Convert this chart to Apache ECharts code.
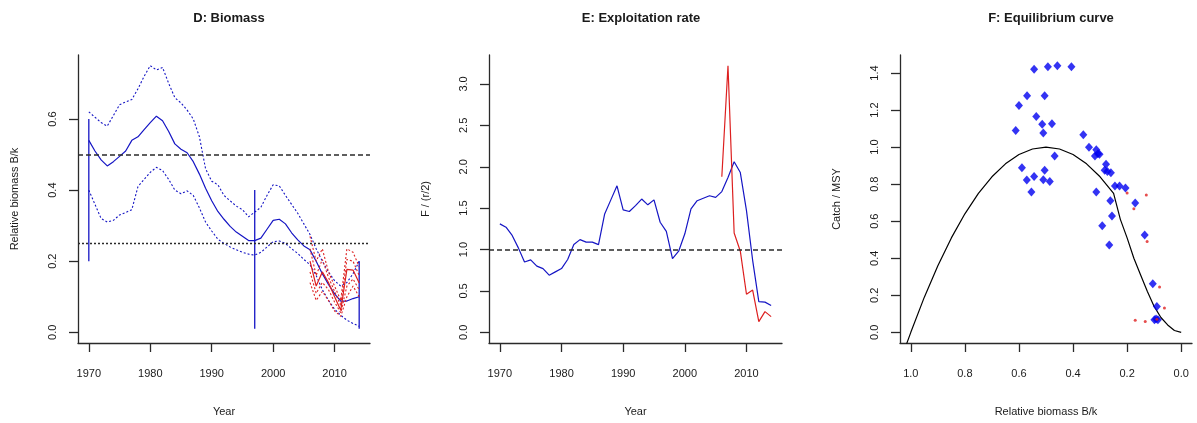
<!DOCTYPE html>
<html>
<head>
<meta charset="utf-8">
<script src="https://cdn.jsdelivr.net/npm/echarts@6/dist/echarts.min.js"></script>
<style>
  html, body { margin: 0; padding: 0; background: #fff; }
  #chart { width: 1197px; height: 423px; }
</style>
</head>
<body>
<div id="chart"></div>
<script>
// ---- Panel D: relative biomass B/k ----
const years = [1970, 1971, 1972, 1973, 1974, 1975, 1976, 1977, 1978, 1979,
               1980, 1981, 1982, 1983, 1984, 1985, 1986, 1987, 1988, 1989,
               1990, 1991, 1992, 1993, 1994, 1995, 1996, 1997, 1998, 1999,
               2000, 2001, 2002, 2003, 2004, 2005, 2006, 2007, 2008, 2009,
               2010, 2011, 2012, 2013, 2014];
const biomassMedian = [0.54, 0.51, 0.485, 0.468, 0.48, 0.495, 0.51, 0.54, 0.55, 0.57,
                       0.59, 0.608, 0.595, 0.565, 0.53, 0.515, 0.505, 0.48, 0.445, 0.405,
                       0.37, 0.34, 0.318, 0.298, 0.282, 0.27, 0.258, 0.258, 0.265, 0.29,
                       0.315, 0.318, 0.305, 0.28, 0.26, 0.243, 0.232, 0.2, 0.165, 0.135,
                       0.108, 0.088, 0.088, 0.095, 0.1];
const biomassUpper = [0.62, 0.605, 0.59, 0.58, 0.61, 0.64, 0.648, 0.655, 0.685, 0.72,
                      0.75, 0.738, 0.745, 0.70, 0.66, 0.645, 0.625, 0.6, 0.55, 0.46,
                      0.425, 0.415, 0.385, 0.37, 0.355, 0.345, 0.325, 0.338, 0.352, 0.385,
                      0.415, 0.412, 0.385, 0.36, 0.335, 0.305, 0.275, 0.235, 0.2, 0.17,
                      0.145, 0.13, 0.14, 0.165, 0.2];
const biomassLower = [0.40, 0.36, 0.32, 0.31, 0.315, 0.33, 0.337, 0.345, 0.41, 0.43,
                      0.45, 0.464, 0.455, 0.43, 0.40, 0.39, 0.398, 0.385, 0.35, 0.31,
                      0.285, 0.262, 0.25, 0.24, 0.232, 0.225, 0.22, 0.217, 0.225, 0.24,
                      0.255, 0.257, 0.25, 0.235, 0.222, 0.205, 0.19, 0.16, 0.12, 0.09,
                      0.065, 0.048, 0.034, 0.025, 0.017];
// prior biomass ranges shown as vertical bars: [year, low, high]
const priorRanges = [[1970, 0.2, 0.6], [1997, 0.01, 0.4], [2014, 0.01, 0.2]];

// recent years from the catch-and-CPUE fit (red)
const recentYears = [2006, 2007, 2008, 2009, 2010, 2011, 2012, 2013, 2014];
const recentMedian = [0.20, 0.13, 0.17, 0.14, 0.10, 0.062, 0.177, 0.175, 0.139];
const recentUpper2 = [0.27, 0.20, 0.235, 0.17, 0.13, 0.09, 0.235, 0.225, 0.185];
const recentUpper1 = [0.235, 0.16, 0.205, 0.155, 0.115, 0.075, 0.205, 0.20, 0.16];
const recentLower1 = [0.17, 0.11, 0.14, 0.12, 0.085, 0.055, 0.13, 0.15, 0.12];
const recentLower2 = [0.14, 0.09, 0.115, 0.09, 0.06, 0.045, 0.10, 0.13, 0.10];

const bmsyLevel = 0.5;
const halfBmsyLevel = 0.25;

// ---- Panel E: exploitation rate F/(r/2) ----
const exploitation = [1.31, 1.27, 1.17, 1.02, 0.85, 0.875, 0.80, 0.77, 0.69, 0.73,
                      0.77, 0.88, 1.06, 1.12, 1.09, 1.09, 1.06, 1.43, 1.60, 1.77,
                      1.48, 1.46, 1.53, 1.61, 1.54, 1.60, 1.33, 1.22, 0.89, 0.98,
                      1.19, 1.49, 1.59, 1.62, 1.65, 1.63, 1.70, 1.87, 2.06, 1.93,
                      1.47, 0.87, 0.37, 0.365, 0.325];
const recentExploitation = [1.88, 3.22, 1.2, 0.98, 0.46, 0.51, 0.13, 0.25, 0.19];
const fmsyLevel = 1.0;

// ---- Panel F: equilibrium curve ----
const curveBk = [1.02, 1.0, 0.95, 0.9, 0.85, 0.8, 0.75, 0.7, 0.65, 0.6, 0.55, 0.5,
                 0.45, 0.4, 0.35, 0.3, 0.25, 0.225, 0.2, 0.175, 0.15, 0.125, 0.1,
                 0.075, 0.05, 0.025, 0.0];
const curveCatch = [-0.08, 0.0, 0.19, 0.36, 0.51, 0.64, 0.75, 0.84, 0.91, 0.96, 0.99, 1.0,
                    0.99, 0.96, 0.91, 0.84, 0.75, 0.61, 0.51, 0.40, 0.31, 0.22, 0.14,
                    0.08, 0.04, 0.01, 0.0];
const obsBk = [0.612, 0.600, 0.570, 0.544, 0.493, 0.458, 0.406, 0.505, 0.536, 0.514,
               0.478, 0.510, 0.468, 0.589, 0.571, 0.544, 0.554, 0.505, 0.510, 0.486,
               0.362, 0.341, 0.314, 0.308, 0.319, 0.302, 0.278, 0.283, 0.273, 0.260,
               0.314, 0.262, 0.245, 0.228, 0.206, 0.256, 0.292, 0.266, 0.170, 0.135,
               0.105, 0.090, 0.099, 0.086, 0.093];
const obsCatch = [1.09, 1.225, 1.278, 1.42, 1.434, 1.44, 1.434, 1.278, 1.166, 1.123,
                  1.127, 1.076, 0.952, 0.889, 0.822, 0.842, 0.758, 0.875, 0.824, 0.815,
                  1.067, 1.0, 0.986, 0.965, 0.952, 0.961, 0.907, 0.875, 0.869, 0.862,
                  0.758, 0.711, 0.79, 0.79, 0.779, 0.628, 0.576, 0.471, 0.698, 0.525,
                  0.263, 0.139, 0.068, 0.068, 0.072];
const recentBk = [0.2, 0.175, 0.129, 0.126, 0.08, 0.062, 0.17, 0.133, 0.09];
const recentCatch = [0.752, 0.668, 0.741, 0.491, 0.245, 0.131, 0.065, 0.059, 0.07];

// tick labels
const yearTicks = [1970, 1980, 1990, 2000, 2010];
const biomassTicks = [0, 0.2, 0.4, 0.6];
const exploitationTicks = [0, 0.5, 1.0, 1.5, 2.0, 2.5, 3.0];
const bkTicks = [1.0, 0.8, 0.6, 0.4, 0.2, 0.0];
const catchTicks = [0, 0.2, 0.4, 0.6, 0.8, 1.0, 1.2, 1.4];

const FONT = '"Liberation Sans", Arial, sans-serif';
const INK = '#1a1a1a';
const AXIS = '#2a2a2a';
const BLUE = '#1515c4';
const RED = '#dd2020';

const pairs = (xs, ys) => xs.map((x, i) => [x, ys[i]]);

function xAxisFor(grid, name, min, max, ticks, extra) {
  return Object.assign({
    type: 'value', gridIndex: grid, min: min, max: max,
    name: name, nameLocation: 'middle', nameGap: 63,
    nameTextStyle: { fontFamily: FONT, fontSize: 11, color: INK },
    axisLine: { show: true, onZero: false, lineStyle: { color: AXIS, width: 1.3 } },
    axisTick: { show: true, length: 9, customValues: ticks, lineStyle: { color: AXIS, width: 1.3 } },
    axisLabel: { customValues: ticks, margin: 25, fontFamily: FONT, fontSize: 11, color: INK,
                 formatter: v => (v > 100 ? String(v) : v.toFixed(1)) },
    splitLine: { show: false }
  }, extra || {});
}

function yAxisFor(grid, name, min, max, ticks) {
  return {
    type: 'value', gridIndex: grid, min: min, max: max,
    name: name, nameLocation: 'middle', nameGap: 58, nameRotate: 90,
    nameTextStyle: { fontFamily: FONT, fontSize: 11, color: INK },
    axisLine: { show: true, onZero: false, lineStyle: { color: AXIS, width: 1.3 } },
    axisTick: { show: true, length: 9, customValues: ticks, lineStyle: { color: AXIS, width: 1.3 } },
    axisLabel: { customValues: ticks, rotate: 90, margin: 20, fontFamily: FONT, fontSize: 11, color: INK,
                 formatter: v => v.toFixed(1) },
    splitLine: { show: false }
  };
}

function line(x, y, data, color, type, width) {
  return {
    type: 'line', xAxisIndex: x, yAxisIndex: y, data: data,
    showSymbol: false, symbol: 'none', silent: true, animation: false,
    lineStyle: { color: color, width: width || 1.1, type: type || 'solid' },
    z: 3
  };
}

function hline(x, y, value, dash, width) {
  return {
    type: 'line', xAxisIndex: x, yAxisIndex: y, data: [], silent: true, animation: false,
    markLine: {
      silent: true, symbol: 'none', animation: false,
      label: { show: false },
      lineStyle: { color: '#2a2a2a', width: width, type: dash },
      data: [{ yAxis: value }]
    }
  };
}

const series = [];
// D
series.push(hline(0, 0, bmsyLevel, [5, 3], 1.5));
series.push(hline(0, 0, halfBmsyLevel, [2, 2], 1.4));
series.push(line(0, 0, pairs(years, biomassUpper), BLUE, [2, 2], 1.1));
series.push(line(0, 0, pairs(years, biomassLower), BLUE, [2, 2], 1.1));
series.push(line(0, 0, pairs(years, biomassMedian), BLUE, 'solid', 1.2));
priorRanges.forEach(r => series.push(line(0, 0, [[r[0], r[1]], [r[0], r[2]]], BLUE, 'solid', 1.3)));
series.push(line(0, 0, pairs(recentYears, recentUpper2), RED, [2, 2], 1.1));
series.push(line(0, 0, pairs(recentYears, recentUpper1), RED, [2, 2], 1.1));
series.push(line(0, 0, pairs(recentYears, recentLower1), RED, [2, 2], 1.1));
series.push(line(0, 0, pairs(recentYears, recentLower2), RED, [2, 2], 1.1));
series.push(line(0, 0, pairs(recentYears, recentMedian), RED, 'solid', 1.2));
// E
series.push(hline(1, 1, fmsyLevel, [5, 3], 1.5));
series.push(line(1, 1, pairs(years, exploitation), BLUE, 'solid', 1.2));
series.push(line(1, 1, pairs(recentYears, recentExploitation), RED, 'solid', 1.2));
// F
series.push(Object.assign(line(2, 2, pairs(curveBk, curveCatch), '#000', 'solid', 1.2), { clip: true }));
series.push({
  type: 'scatter', xAxisIndex: 2, yAxisIndex: 2, data: pairs(obsBk, obsCatch),
  symbol: 'diamond', symbolSize: [8, 9], itemStyle: { color: '#0000f0' },
  silent: true, animation: false, z: 4
});
series.push({
  type: 'scatter', xAxisIndex: 2, yAxisIndex: 2, data: pairs(recentBk, recentCatch),
  symbol: 'circle', symbolSize: 3, itemStyle: { color: '#e02020' },
  silent: true, animation: false, z: 5
});

const titleStyle = { fontFamily: FONT, fontSize: 13, fontWeight: 'bold', color: INK };

const option = {
  backgroundColor: '#fff',
  animation: false,
  textStyle: { fontFamily: FONT },
  title: [
    { text: 'D: Biomass', left: 224, top: 7, textAlign: 'center', textStyle: titleStyle },
    { text: 'E: Exploitation rate', left: 636, top: 7, textAlign: 'center', textStyle: titleStyle },
    { text: 'F: Equilibrium curve', left: 1046, top: 7, textAlign: 'center', textStyle: titleStyle }
  ],
  grid: [
    { left: 78, top: 55, width: 292, height: 288 },
    { left: 489, top: 55, width: 293, height: 288 },
    { left: 900, top: 55, width: 292, height: 288 }
  ],
  xAxis: [
    xAxisFor(0, 'Year', 1968.24, 2015.76, yearTicks),
    xAxisFor(1, 'Year', 1968.24, 2015.76, yearTicks),
    xAxisFor(2, 'Relative biomass B/k', -0.04, 1.04, bkTicks, { inverse: true })
  ],
  yAxis: [
    yAxisFor(0, 'Relative biomass B/k', -0.03, 0.78, biomassTicks),
    yAxisFor(1, 'F / (r/2)', -0.129, 3.35, exploitationTicks),
    yAxisFor(2, 'Catch / MSY', -0.0576, 1.4976, catchTicks)
  ],
  series: series
};

const chart = echarts.init(document.getElementById('chart'), null, { renderer: 'canvas' });
chart.setOption(option);
</script>
</body>
</html>
